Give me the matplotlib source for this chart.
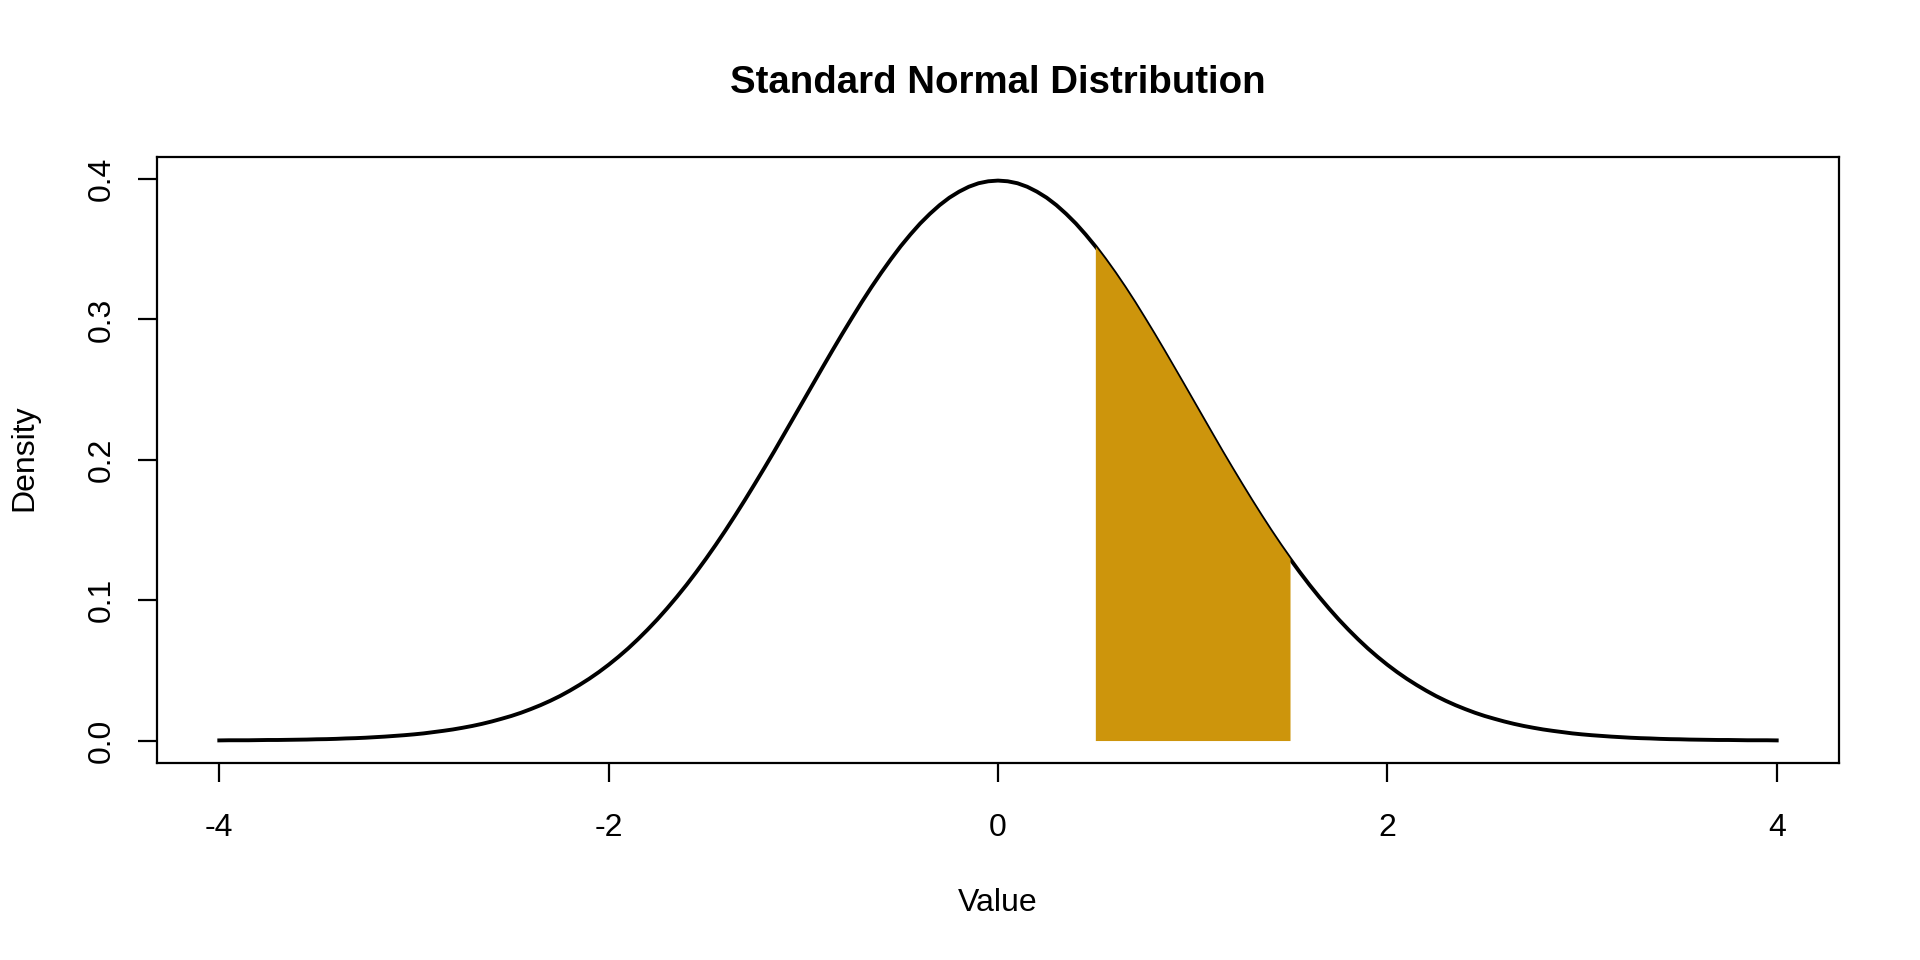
import numpy as np
import matplotlib
matplotlib.use("Agg")
import matplotlib.pyplot as plt

plt.rcParams["font.family"] = ["Liberation Sans", "DejaVu Sans"]

# values, x from -4 to 4 in steps of 0.05 (curve is symmetric)
x_vals = np.round(np.arange(-80, 81) / 20, 2)
right_half = [0.3989, 0.3984, 0.3970, 0.3945, 0.3910, 0.3867, 0.3814, 0.3752,
              0.3683, 0.3605, 0.3521, 0.3429, 0.3332, 0.3230, 0.3123, 0.3011,
              0.2897, 0.2780, 0.2661, 0.2541, 0.2420, 0.2299, 0.2179, 0.2059,
              0.1942, 0.1827, 0.1714, 0.1604, 0.1497, 0.1394, 0.1295, 0.1200,
              0.1109, 0.1023, 0.0941, 0.0863, 0.0790, 0.0721, 0.0656, 0.0596,
              0.0540, 0.0488, 0.0440, 0.0396, 0.0355, 0.0317, 0.0283, 0.0252,
              0.0224, 0.0198, 0.0175, 0.0155, 0.0136, 0.0119, 0.0104, 0.0091,
              0.0079, 0.0069, 0.0060, 0.0051, 0.0044, 0.0038, 0.0033, 0.0028,
              0.0024, 0.0020, 0.0017, 0.0015, 0.0012, 0.0010, 0.0009, 0.0007,
              0.0006, 0.0005, 0.0004, 0.0004, 0.0003, 0.0002, 0.0002, 0.0002,
              0.0001]
density = np.array(right_half[:0:-1] + right_half)

shade_lo, shade_hi = 0.5, 1.5
x_ticks = [-4, -2, 0, 2, 4]
y_ticks = [0.0, 0.1, 0.2, 0.3, 0.4]

fig = plt.figure(figsize=(19.2, 9.6), dpi=100)
ax = fig.add_axes([157 / 1920, 1 - 763 / 960, (1839 - 157) / 1920, (763 - 157) / 960])

ax.plot(x_vals, density, color="black", lw=2.8, zorder=2)
mask = (x_vals >= shade_lo) & (x_vals <= shade_hi)
ax.fill_between(x_vals, 0, density, where=mask, color="#CD950C", lw=0, zorder=3)

ax.set_xlim(-4.32, 4.32)
ax.set_ylim(-0.016, 0.4157)
ax.set_xticks(x_ticks)
ax.set_xticklabels([str(v) for v in x_ticks])
ax.set_yticks(y_ticks)
ax.set_yticklabels([f"{v:.1f}" for v in y_ticks], rotation=90, va="center")

for sp in ax.spines.values():
    sp.set_linewidth(1.6)
ax.tick_params(axis="both", direction="out", length=14, width=1.6, labelsize=23)
ax.tick_params(axis="x", pad=22)
ax.tick_params(axis="y", pad=15)

fig.text(998 / 1920, 1 - 83 / 960, "Standard Normal Distribution",
         ha="center", va="center", fontsize=27.6, fontweight="bold")
fig.text(998 / 1920, 1 - 903 / 960, "Value", ha="center", va="center", fontsize=23)
fig.text(24 / 1920, 1 - 458 / 960, "Density", ha="center", va="center",
         rotation=90, fontsize=23)

fig.savefig("out.png", dpi=100)
